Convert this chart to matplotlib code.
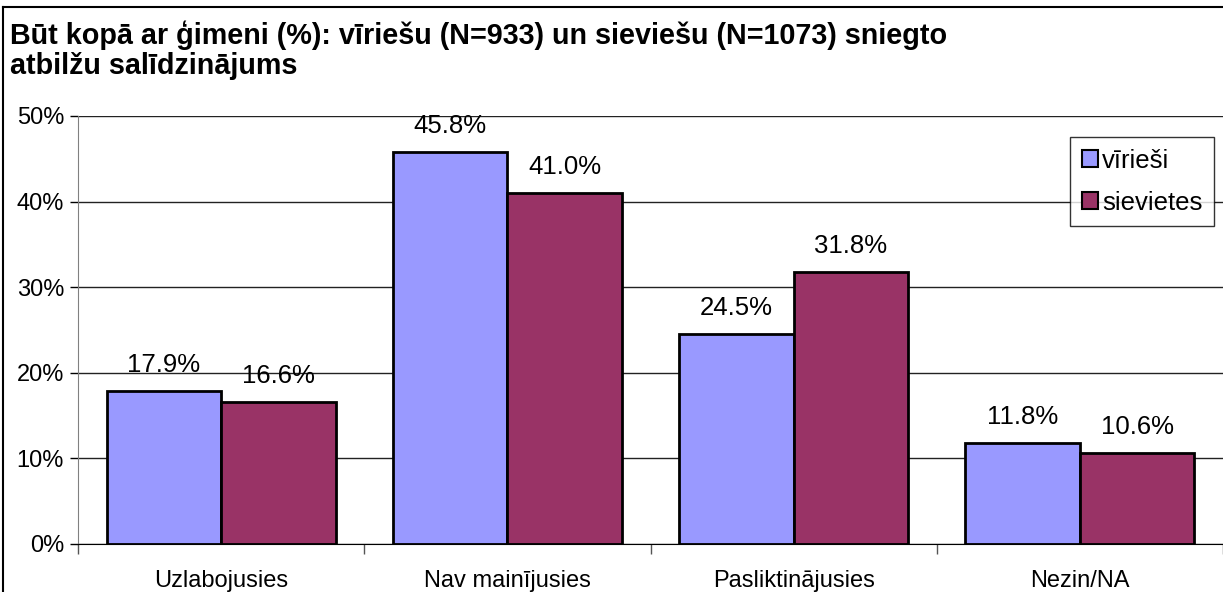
import matplotlib.pyplot as plt
import numpy as np
from matplotlib.lines import Line2D

plt.rcParams['font.family'] = ['Liberation Sans', 'DejaVu Sans']

categories = ["Uzlabojusies", "Nav mainījusies", "Pasliktinājusies", "Nezin/NA"]
viriesi = [17.9, 45.8, 24.5, 11.8]
sievietes = [16.6, 41.0, 31.8, 10.6]
yticks = [0, 10, 20, 30, 40, 50]

W, H = 1223, 592
fig = plt.figure(figsize=(W / 100, H / 100), dpi=100)
ax = fig.add_axes([78 / W, 1 - 544 / H, (1223 - 78) / W, (544 - 116) / H])

x = np.arange(len(categories))
bw = 0.4
b1 = ax.bar(x - bw / 2, viriesi, bw, color="#9999FF", edgecolor="black", linewidth=2, label="vīrieši", zorder=3)
b2 = ax.bar(x + bw / 2, sievietes, bw, color="#993366", edgecolor="black", linewidth=2, label="sievietes", zorder=3)

for bars, vals in ((b1, viriesi), (b2, sievietes)):
    for rect, v in zip(bars, vals):
        ax.annotate(f"{v:.1f}%", (rect.get_x() + rect.get_width() / 2, v),
                    xytext=(0, 10), textcoords="offset points",
                    ha="center", va="bottom", fontsize=18.5)

ax.set_xlim(-0.5, len(categories) - 0.5)
ax.set_ylim(0, 50)
ax.set_yticks(yticks)
ax.set_yticklabels([f"{t}%" for t in yticks], fontsize=17)
ax.tick_params(axis="y", length=6, width=1, pad=4)

ax.set_xticks(x)
ax.set_xticklabels(categories, fontsize=17)
ax.tick_params(axis="x", which="major", length=0, pad=18.5)
ax.set_xticks(np.arange(len(categories) + 1) - 0.5, minor=True)
ax.tick_params(axis="x", which="minor", length=7, width=1, color="#555555")

ax.grid(axis="y", color="#222222", linewidth=1, zorder=0)
ax.set_axisbelow(True)
for s in ("top", "right"):
    ax.spines[s].set_visible(False)
ax.spines["left"].set_color("#808080")
ax.spines["bottom"].set_color("black")
ax.spines["bottom"].set_zorder(4)

leg = ax.legend(loc="upper right", bbox_to_anchor=(1214 / W, 1 - 137 / H),
                bbox_transform=fig.transFigure, fontsize=18.5, frameon=True,
                fancybox=False, edgecolor="black", handlelength=0.65,
                handleheight=0.65, handletextpad=0.15, borderpad=0.45,
                labelspacing=0.7, borderaxespad=0)
leg.get_frame().set_linewidth(1)
for h in leg.legend_handles:
    h.set_linewidth(1.5)

fig.text(10 / W, 1 - 20 / H,
         "Būt kopā ar ģimeni (%): vīriešu (N=933) un sieviešu (N=1073) sniegto\natbilžu salīdzinājums",
         ha="left", va="top", fontsize=20.7, fontweight="bold", linespacing=1.1)

# outer chart frame
fig.add_artist(Line2D([3 / W, 3 / W], [0, 1 - 7 / H], color="black", linewidth=1.5, transform=fig.transFigure))
fig.add_artist(Line2D([3 / W, 1], [1 - 7 / H, 1 - 7 / H], color="black", linewidth=1.5, transform=fig.transFigure))

fig.savefig("out.png", dpi=100)
